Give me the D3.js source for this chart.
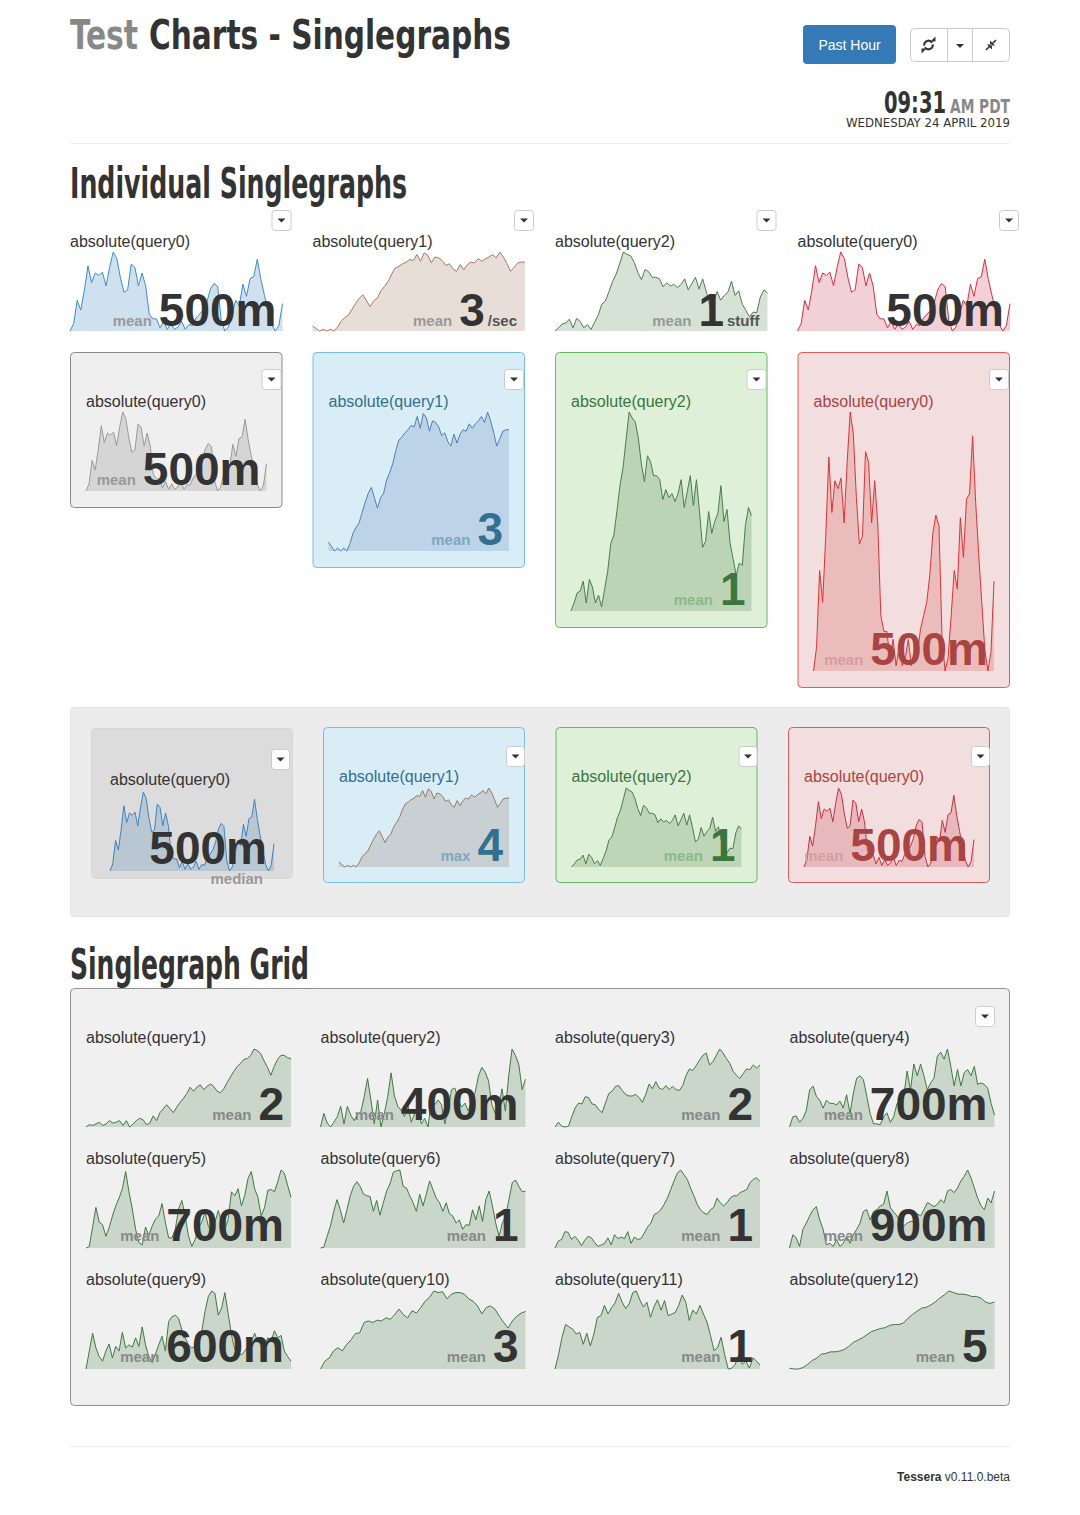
<!DOCTYPE html>
<html>
<head>
<meta charset="utf-8">
<script src="https://cdnjs.cloudflare.com/ajax/libs/d3/7.8.5/d3.min.js"></script>
<style>
  body { margin: 0; background: #fff; }
  svg { display: block; }
</style>
</head>
<body>
<svg id="page"></svg>
<script>

// series (relative units, min..max fills the chart height)
var query0 = [0.02,0.11,0.40,0.28,0.53,0.83,0.62,0.74,0.71,0.75,0.58,0.81,1.00,0.92,0.68,0.50,0.53,0.85,0.81,0.58,
              0.74,0.58,0.23,0.17,0.17,0.06,0.14,0.04,0.11,0.04,0.07,0.14,0.04,0.10,0.09,0.18,0.23,0.28,0.38,0.54,
              0.61,0.57,0.15,0.02,0.07,0.23,0.40,0.33,0.60,0.45,0.67,0.69,0.91,0.66,0.46,0.28,0.10,0.02,0.09,0.36]
var query1 = [0.10,0.07,0.04,0.06,0.04,0.06,0.04,0.09,0.16,0.20,0.23,0.30,0.37,0.43,0.47,0.40,0.33,0.40,0.43,0.52,
              0.57,0.63,0.72,0.79,0.81,0.84,0.86,0.89,0.88,0.95,0.87,0.97,0.94,0.85,0.92,0.91,0.88,0.82,0.84,0.78,
              0.75,0.83,0.77,0.83,0.86,0.85,0.90,0.87,0.90,0.92,0.95,0.91,0.98,0.92,0.84,0.75,0.80,0.85,0.86,0.86]
var query2 = [0.00,0.04,0.09,0.10,0.15,0.04,0.16,0.12,0.04,0.08,0.02,0.11,0.20,0.34,0.38,0.50,0.63,0.72,0.86,1.00,
              0.97,0.95,0.87,0.74,0.65,0.78,0.75,0.68,0.68,0.66,0.56,0.61,0.57,0.59,0.55,0.59,0.66,0.52,0.60,0.68,
              0.53,0.66,0.50,0.32,0.35,0.50,0.39,0.45,0.49,0.63,0.45,0.51,0.34,0.26,0.18,0.24,0.23,0.43,0.52,0.48]

var grid1 = [0.01,0.04,0.03,0.05,0.07,0.03,0.05,0.09,0.06,0.07,0.09,0.03,0.09,0.01,0.05,0.09,0.12,0.10,0.04,0.06,
             0.15,0.09,0.19,0.24,0.29,0.24,0.19,0.26,0.32,0.37,0.43,0.51,0.46,0.51,0.54,0.48,0.52,0.55,0.52,0.46,
             0.44,0.49,0.57,0.64,0.71,0.77,0.81,0.86,0.87,0.91,0.99,0.97,0.93,0.84,0.76,0.66,0.77,0.86,0.91,0.91,0.88,0.87]
var grid2 = [0.01,0.18,0.06,0.01,0.07,0.14,0.27,0.05,0.27,0.16,0.09,0.17,0.20,0.39,0.62,0.35,0.05,0.35,0.01,0.18,
             0.39,0.69,0.40,0.27,0.22,0.14,0.29,0.07,0.18,0.22,0.05,0.12,0.01,0.35,0.29,0.35,0.29,0.05,0.24,0.48,
             0.50,0.35,0.26,0.31,0.21,0.35,0.44,0.65,0.76,0.70,0.59,0.29,0.18,0.24,0.49,0.21,0.65,0.99,0.91,0.80,0.48,0.61]
var grid3 = [0.01,0.07,0.02,0.01,0.02,0.14,0.25,0.31,0.30,0.39,0.38,0.30,0.29,0.23,0.19,0.31,0.43,0.46,0.52,0.53,
             0.47,0.42,0.40,0.40,0.42,0.38,0.32,0.42,0.55,0.49,0.58,0.50,0.48,0.53,0.48,0.52,0.48,0.47,0.53,0.66,
             0.74,0.72,0.78,0.85,0.91,0.94,0.79,0.83,0.91,0.99,0.94,0.87,0.81,0.71,0.66,0.62,0.68,0.74,0.73,0.79,0.75,0.79]
var grid4 = [0.01,0.14,0.15,0.07,0.12,0.22,0.48,0.53,0.40,0.35,0.25,0.35,0.31,0.31,0.29,0.34,0.25,0.42,0.18,0.44,
             0.63,0.66,0.61,0.40,0.18,0.05,0.05,0.04,0.14,0.19,0.07,0.14,0.31,0.27,0.40,0.72,0.48,0.81,0.66,0.81,
             0.66,0.48,0.57,0.63,0.91,0.96,0.87,1.00,0.78,0.53,0.74,0.53,0.70,0.74,0.66,0.78,0.55,0.57,0.55,0.50,0.31,0.16]
var grid5 = [0.00,0.02,0.27,0.52,0.33,0.30,0.15,0.26,0.41,0.54,0.64,0.76,0.98,0.72,0.50,0.24,0.07,0.04,0.27,0.16,
             0.28,0.37,0.41,0.57,0.33,0.13,0.13,0.24,0.50,0.61,0.41,0.15,0.02,0.11,0.26,0.33,0.46,0.28,0.22,0.33,
             0.48,0.33,0.24,0.37,0.72,0.67,0.76,0.54,0.67,0.89,0.98,0.76,0.65,0.41,0.52,0.74,0.75,0.72,0.85,1.00,0.96,0.80,0.65]
var grid6 = [0.00,0.01,0.15,0.28,0.47,0.62,0.49,0.32,0.49,0.67,0.79,0.85,0.79,0.69,0.67,0.66,0.47,0.61,0.42,0.58,
             0.73,0.82,0.97,0.99,1.00,0.79,0.77,0.67,0.58,0.47,0.69,0.54,0.69,0.86,0.75,0.64,0.58,0.47,0.58,0.44,
             0.41,0.32,0.36,0.24,0.30,0.29,0.49,0.36,0.54,0.34,0.62,0.73,0.54,0.32,0.15,0.32,0.41,0.62,0.84,0.87,0.79,0.72,0.73]
var grid7 = [0.00,0.09,0.11,0.21,0.20,0.11,0.15,0.10,0.03,0.10,0.15,0.13,0.07,0.02,0.04,0.06,0.13,0.04,0.17,0.12,
             0.14,0.12,0.21,0.06,0.14,0.11,0.12,0.19,0.27,0.32,0.43,0.45,0.49,0.56,0.64,0.75,0.86,0.96,1.00,0.94,
             0.88,0.77,0.67,0.56,0.49,0.45,0.43,0.49,0.52,0.64,0.58,0.54,0.58,0.64,0.67,0.67,0.71,0.73,0.75,0.84,0.88,0.90,0.85]
var grid8 = [0.00,0.17,0.13,0.02,0.24,0.32,0.41,0.49,0.53,0.36,0.24,0.04,0.06,0.02,0.11,0.02,0.06,0.15,0.06,0.17,
             0.24,0.32,0.47,0.49,0.36,0.47,0.49,0.54,0.56,0.73,0.52,0.46,0.41,0.32,0.28,0.32,0.34,0.34,0.44,0.41,
             0.49,0.58,0.56,0.53,0.56,0.62,0.58,0.73,0.75,0.71,0.77,0.86,0.92,1.00,0.90,0.77,0.64,0.54,0.49,0.64,0.58,0.73]
var grid9 = [0.00,0.23,0.46,0.27,0.16,0.10,0.23,0.32,0.14,0.29,0.23,0.47,0.27,0.31,0.28,0.40,0.29,0.54,0.31,0.16,
             0.08,0.19,0.31,0.42,0.23,0.61,0.67,0.69,0.65,0.50,0.40,0.31,0.27,0.29,0.31,0.48,0.74,0.93,1.00,0.97,
             0.69,0.78,0.98,0.71,0.44,0.25,0.20,0.18,0.23,0.29,0.35,0.46,0.34,0.40,0.31,0.40,0.36,0.49,0.40,0.43,0.23,0.16,0.10]
var grid10 = [0.00,0.10,0.14,0.23,0.27,0.23,0.31,0.37,0.45,0.46,0.59,0.61,0.59,0.62,0.61,0.65,0.63,0.69,0.76,0.69,
              0.65,0.74,0.71,0.78,0.86,0.91,0.99,0.97,0.98,0.89,0.95,0.97,0.97,0.95,0.89,0.86,0.80,0.70,0.78,0.80,
              0.76,0.67,0.59,0.52,0.61,0.67,0.71,0.73]
var grid11 = [0.00,0.18,0.40,0.56,0.53,0.50,0.44,0.46,0.31,0.45,0.29,0.44,0.65,0.67,0.80,0.69,0.77,0.83,0.95,0.84,
              0.76,0.82,0.96,0.98,0.87,0.78,0.84,0.65,0.78,0.87,0.74,0.86,0.67,0.69,0.71,0.80,0.93,0.84,0.61,0.74,
              0.69,0.80,0.69,0.59,0.42,0.23,0.27,0.40,0.18,0.00,0.01,0.06,0.18,0.06,0.10,0.01,0.14,0.10,0.05]
var grid12 = [0.01,0.00,0.00,0.02,0.06,0.11,0.14,0.19,0.20,0.22,0.22,0.23,0.25,0.29,0.34,0.37,0.40,0.44,0.48,0.50,
              0.52,0.53,0.56,0.57,0.57,0.59,0.65,0.70,0.74,0.78,0.79,0.82,0.86,0.91,0.95,1.00,0.98,0.96,0.96,0.95,
              0.93,0.93,0.91,0.86,0.84,0.86]

var gridSeries = [grid1, grid2, grid3, grid4, grid5, grid6, grid7, grid8, grid9, grid10, grid11, grid12]
var gridTitles = ["absolute(query1)","absolute(query2)","absolute(query3)","absolute(query4)",
                  "absolute(query5)","absolute(query6)","absolute(query7)","absolute(query8)",
                  "absolute(query9)","absolute(query10)","absolute(query11)","absolute(query12)"]
var gridMeans = ["2","400m","2","700m","700m","1","1","900m","600m","3","1","5"]

// individual singlegraphs: row 1 (plain), row 2 (boxed), row 3 (inside a well)
var rowOneTitles = ["absolute(query0)","absolute(query1)","absolute(query2)","absolute(query0)"]
var rowOneLabels = ["mean","mean","mean",""]
var rowOneValues = ["500m","3","1","500m"]
var rowOneUnits = ["","/sec","stuff",""]
var rowTwoLabels = ["mean","mean","mean","mean"]
var rowTwoValues = ["500m","3","1","500m"]
var rowThreeLabels = ["median","max","mean","mean"]
var rowThreeValues = ["500m","4","1","500m"]

var sans = "'Liberation Sans', Arial, 'Helvetica Neue', sans-serif"
var cond = "'Liberation Sans Narrow', 'DejaVu Sans Condensed', 'Liberation Sans', sans-serif"

var svg = d3.select("#page").attr("width", 1080).attr("height", 1515)
svg.append("rect").attr("width", 1080).attr("height", 1515).attr("fill", "#fff")

// draw one sparkline (area + line) into a box
function spark(g, values, box, lineColor, fillColor) {
    var x = d3.scaleLinear().domain([0, values.length - 1]).range([box.x, box.x + box.w])
    var y = d3.scaleLinear().domain(d3.extent(values)).range([box.y + box.h, box.y])
    var area = d3.area().x(function(d, i) { return x(i) }).y0(box.y + box.h).y1(function(d) { return y(d) })
    var line = d3.line().x(function(d, i) { return x(i) }).y(function(d) { return y(d) })
    g.append("path").datum(values).attr("d", area).attr("fill", fillColor)
    g.append("path").datum(values).attr("d", line)
        .attr("fill", "none").attr("stroke", lineColor).attr("stroke-width", 1)
}

// big number with its small label in front and units behind
function bigValue(g, right, base, label, value, units, color, labelColor) {
    var t = g.append("text").attr("x", right).attr("y", base)
        .attr("text-anchor", "end").attr("font-family", sans).attr("font-weight", "bold")
    if (label) t.append("tspan").attr("font-size", 15).attr("fill", labelColor).text(label)
    t.append("tspan").attr("font-size", 46).attr("fill", color).attr("dx", label ? 7 : 0).text(value)
    if (units) t.append("tspan").attr("font-size", 15).attr("fill", "#555").attr("dx", 3).text(units)
}

function caret(g, x, y, w, h) {
    g.append("rect").attr("x", x + 0.5).attr("y", y + 0.5).attr("width", w).attr("height", h)
        .attr("rx", 3).attr("fill", "#fff").attr("stroke", "#ccc")
    var cx = x + w / 2 + 0.5, cy = y + h / 2 + 0.5
    g.append("path").attr("d", "M" + (cx - 4) + "," + (cy - 2) + "L" + (cx + 4) + "," + (cy - 2) + "L" + cx + "," + (cy + 2) + "Z")
        .attr("fill", "#333")
}

function title(g, x, y, text, color) {
    g.append("text").attr("x", x).attr("y", y).attr("font-family", sans)
        .attr("font-size", 16).attr("fill", color).text(text)
}

function heading(x, y, text, size, len, color, weight) {
    svg.append("text").attr("x", x).attr("y", y).attr("font-family", cond)
        .attr("font-weight", weight || "bold").attr("font-size", size).attr("fill", color)
        .attr("textLength", len).attr("lengthAdjust", "spacingAndGlyphs").text(text)
}

// ---- header ----
heading(70, 49, "Test", 40, 68, "#888")
heading(149, 49, "Charts - Singlegraphs", 40, 362, "#333")

svg.append("rect").attr("x", 803).attr("y", 25).attr("width", 93).attr("height", 39).attr("rx", 4).attr("fill", "#337ab7")
svg.append("text").attr("x", 849.5).attr("y", 49.5).attr("text-anchor", "middle").attr("font-family", sans)
    .attr("font-size", 14).attr("fill", "#fff").text("Past Hour")

var grp = svg.append("g")
grp.append("rect").attr("x", 910.5).attr("y", 28.5).attr("width", 99).attr("height", 33).attr("rx", 4)
    .attr("fill", "#fff").attr("stroke", "#ccc")
grp.append("line").attr("x1", 947.5).attr("x2", 947.5).attr("y1", 28.5).attr("y2", 61.5).attr("stroke", "#ccc")
grp.append("line").attr("x1", 972.5).attr("x2", 972.5).attr("y1", 28.5).attr("y2", 61.5).attr("stroke", "#ccc")
// refresh icon
var arc = d3.arc().innerRadius(3.3).outerRadius(5.3)
grp.append("path").attr("transform", "translate(928.5,45)").attr("fill", "#333")
    .attr("d", arc({startAngle: -1.7, endAngle: 1.0}))
grp.append("path").attr("transform", "translate(928.5,45)").attr("fill", "#333")
    .attr("d", arc({startAngle: 1.45, endAngle: 4.15}))
grp.append("path").attr("fill", "#333").attr("d", "M930.5,41.5L935.5,41.5L935.5,36.5Z")
grp.append("path").attr("fill", "#333").attr("d", "M926.5,48.5L921.5,48.5L921.5,53.5Z")
// caret
grp.append("path").attr("fill", "#333").attr("d", "M956,44L964,44L960,48Z")
// compress icon
grp.append("path").attr("stroke", "#333").attr("stroke-width", 1.6).attr("d", "M996,40L991.5,44.5M986,50L990.5,45.5")
grp.append("path").attr("fill", "#333").attr("d", "M990,40.5L990,45.5L995,45.5ZM992,44.5L992,49.5L987,44.5Z")

// clock
heading(884, 113, "09:31", 30, 62, "#333")
heading(950, 113, "AM PDT", 19, 60, "#888")
heading(846, 127, "WEDNESDAY 24 APRIL 2019", 12, 164, "#333", "normal")

svg.append("line").attr("x1", 70).attr("x2", 1010).attr("y1", 143.5).attr("y2", 143.5).attr("stroke", "#eee")

heading(70, 198, "Individual Singlegraphs", 42, 337, "#333")

// ---- row 1: plain singlegraphs ----
var colX = [70, 312.5, 555, 797.5], colW = 212.5
var rowOneSeries = [query0, query1, query2, query0]
var rowOneLine = ["#3d8bd0", "#a57a63", "#4e7f4e", "#d8303f"]
var rowOneFill = ["#cfe1ee", "#e8ded8", "#d6e2d5", "#f2d0d7"]
var r1 = svg.append("g")
colX.forEach(function(x, i) {
    caret(r1, x + colW - 11, 210, 19, 20)
    title(r1, x, 247, rowOneTitles[i], "#333")
    spark(r1, rowOneSeries[i], {x: x, y: 252, w: colW, h: 79}, rowOneLine[i], rowOneFill[i])
    bigValue(r1, x + colW - (rowOneUnits[i] ? 8 : 6), 326, rowOneLabels[i], rowOneValues[i], rowOneUnits[i], "#333", "#999")
})

// ---- row 2: boxed singlegraphs of growing height ----
var rowTwoHeights = [155, 215, 275, 335]
var boxStyles = [
    {bg: "#efefef", border: "#8a8a8a", title: "#333", value: "#333", label: "#999", line: "#9a9a9a", fill: "#d5d5d5"},
    {bg: "#d9edf7", border: "#72bfe2", title: "#31708f", value: "#31708f", label: "#7da8bf", line: "#4f7fb8", fill: "#bcd3e8"},
    {bg: "#dff0d8", border: "#62bb62", title: "#3c763d", value: "#3c763d", label: "#8db98a", line: "#4a7d4a", fill: "#bad4b5"},
    {bg: "#f2dede", border: "#de5b5b", title: "#a94442", value: "#a94442", label: "#d39e9e", line: "#e03232", fill: "#ebbcbc"}
]
var rowTwoSeries = [query0, query1, query2, query0]
var r2 = svg.append("g")
colX.forEach(function(x, i) {
    var s = boxStyles[i], h = rowTwoHeights[i]
    r2.append("rect").attr("x", x + 0.5).attr("y", 352.5).attr("width", colW - 1).attr("height", h)
        .attr("rx", 4).attr("fill", s.bg).attr("stroke", s.border)
    caret(r2, x + colW - 21, 369, 19, 20)
    title(r2, x + 16, 407, rowOneTitles[i], s.title)
    var box = {x: x + 16, y: 412, w: colW - 32, h: h - 76}
    spark(r2, rowTwoSeries[i], box, s.line, s.fill)
    bigValue(r2, box.x + box.w - 6, box.y + box.h - 6, rowTwoLabels[i], rowTwoValues[i], "", s.value, s.label)
})

// ---- row 3: singlegraphs inside a well ----
svg.append("rect").attr("x", 70.5).attr("y", 707.5).attr("width", 939).attr("height", 209)
    .attr("rx", 4).attr("fill", "#ececec").attr("stroke", "#e3e3e3")
var wellX = [91, 323, 555.5, 788], wellW = 202
var rowThreeSeries = [query0, query1, query2, query0]
var wellStyles = [
    {bg: "#dcdcdc", border: "#d6d6d6", title: "#333", value: "#333", label: "#999", line: "#3b84c4", fill: "#b9c7d3"},
    {bg: "#d9edf7", border: "#72bfe2", title: "#31708f", value: "#31708f", label: "#7da8bf", line: "#9a7a60", fill: "#c9d0d3"},
    {bg: "#dff0d8", border: "#62bb62", title: "#3c763d", value: "#3c763d", label: "#8db98a", line: "#4a7d4a", fill: "#bcd6b7"},
    {bg: "#f2dede", border: "#de5b5b", title: "#a94442", value: "#a94442", label: "#d39e9e", line: "#c8303f", fill: "#e7b9bd"}
]
var r3 = svg.append("g")
wellX.forEach(function(x, i) {
    var s = wellStyles[i]
    if (i == 0) {
        r3.append("rect").attr("x", x + 0.5).attr("y", 728.5).attr("width", wellW - 1).attr("height", 150)
            .attr("rx", 4).attr("fill", s.bg).attr("stroke", s.border)
        caret(r3, x + wellW - 22, 749, 18, 20)
        title(r3, x + 19, 785, rowOneTitles[i], s.title)
        var box = {x: x + 19, y: 792, w: wellW - 38, h: 79}
        spark(r3, rowThreeSeries[i], box, s.line, s.fill)
        bigValue(r3, box.x + box.w - 7, 864, "", rowThreeValues[i], "", s.value, s.label)
        r3.append("text").attr("x", box.x + box.w - 11).attr("y", 884).attr("text-anchor", "end")
            .attr("font-family", sans).attr("font-weight", "bold").attr("font-size", 15)
            .attr("fill", s.label).text(rowThreeLabels[i])
    } else {
        r3.append("rect").attr("x", x + 0.5).attr("y", 727.5).attr("width", wellW - 1).attr("height", 155)
            .attr("rx", 4).attr("fill", s.bg).attr("stroke", s.border)
        caret(r3, x + wellW - 19, 746, 18, 20)
        title(r3, x + 16, 782, rowOneTitles[i], s.title)
        var box2 = {x: x + 16, y: 788, w: wellW - 32, h: 79}
        spark(r3, rowThreeSeries[i], box2, s.line, s.fill)
        bigValue(r3, box2.x + box2.w - 6, 861, rowThreeLabels[i], rowThreeValues[i], "", s.value, s.label)
    }
})

// ---- singlegraph grid ----
heading(70, 979, "Singlegraph Grid", 42, 239, "#333")
svg.append("rect").attr("x", 70.5).attr("y", 988.5).attr("width", 939).attr("height", 417)
    .attr("rx", 4).attr("fill", "#f0f0f0").attr("stroke", "#8f8f8f")
var gridG = svg.append("g")
caret(gridG, 975, 1006, 19, 20)
var gridX = [86, 320.5, 555, 789.5], gridW = 205
var gridTitleY = [1043, 1164, 1285]
gridSeries.forEach(function(values, i) {
    var col = i % 4, row = Math.floor(i / 4)
    var x = gridX[col]
    title(gridG, x, gridTitleY[row], gridTitles[i], "#333")
    var box = {x: x, y: gridTitleY[row] + 6, w: gridW, h: 78}
    spark(gridG, values, box, "#3f7a3f", "#c9d6c9")
    bigValue(gridG, x + gridW - 7, box.y + box.h - 7, "mean", gridMeans[i], "", "#333", "#888")
})

// ---- footer ----
svg.append("line").attr("x1", 70).attr("x2", 1010).attr("y1", 1446.5).attr("y2", 1446.5).attr("stroke", "#eee")
var foot = svg.append("text").attr("x", 1010).attr("y", 1481).attr("text-anchor", "end")
    .attr("font-family", sans).attr("font-size", 12).attr("fill", "#333")
foot.append("tspan").attr("font-weight", "bold").text("Tessera")
foot.append("tspan").text(" v0.11.0.beta")

</script>
</body>
</html>
